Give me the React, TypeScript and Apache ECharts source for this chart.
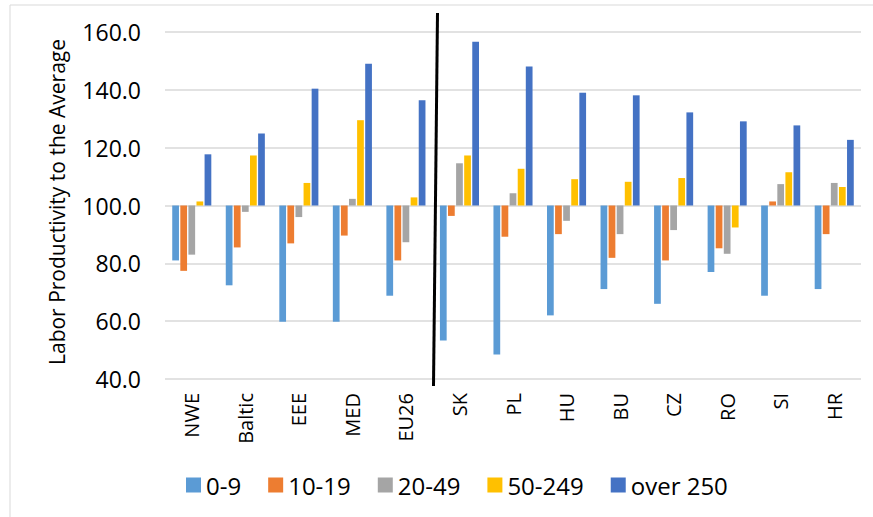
import React, { useEffect, useRef } from "react";
import * as echarts from "echarts";

const categories = ["NWE", "Baltic", "EEE", "MED", "EU26", "SK", "PL", "HU", "BU", "CZ", "RO", "SI", "HR"];
const seriesNames = ["0-9", "10-19", "20-49", "50-249", "over 250"];
const s0_9 = [81, 72.4, 59.8, 59.8, 68.8, 53.3, 48.5, 62, 71.1, 66, 77, 68.8, 71.1];
const s10_19 = [77.4, 85.5, 86.9, 89.6, 81, 96.4, 89.2, 90.1, 81.9, 81, 85.2, 101.4, 90.1];
const s20_49 = [83, 97.8, 96, 102.3, 87.3, 114.6, 104.2, 94.7, 90.1, 91.5, 83.3, 107.4, 107.8];
const s50_249 = [101.4, 117.3, 107.8, 129.5, 102.8, 117.3, 112.7, 109.1, 108.2, 109.5, 92.4, 111.5, 106.4];
const sOver250 = [117.7, 124.9, 140.4, 149, 136.4, 156.6, 148.1, 139, 138.1, 132.2, 129.1, 127.7, 122.7];
const yTicks = { min: 40, max: 160, step: 20 };
const baseline = 100;
const colors = ["#5B9BD5", "#ED7D31", "#A5A5A5", "#FFC000", "#4472C4"];
const FONT = "'Open Sans', 'Liberation Sans', sans-serif";

export default function App() {
  const ref = useRef<HTMLDivElement>(null);
  useEffect(() => {
    if (!ref.current) return;
    const chart = echarts.init(ref.current, null, { renderer: "svg" });
    const all = [s0_9, s10_19, s20_49, s50_249, sOver250];
    chart.setOption({
      animation: false,
      backgroundColor: "#ffffff",
      color: colors,
      grid: { left: 165, right: 12, top: 32, bottom: 138, containLabel: false },
      legend: {
        left: 181,
        top: 468,
        itemWidth: 15,
        itemHeight: 15,
        itemGap: 27,
        symbolKeepAspect: false,
        itemStyle: { borderWidth: 0 },
        textStyle: { fontFamily: FONT, fontSize: 24, color: "#000" },
        data: seriesNames.map((n) => ({ name: n, icon: "rect" })),
      },
      xAxis: {
        type: "category",
        data: categories,
        axisLine: { show: false, onZero: false },
        axisTick: { show: false },
        axisLabel: { rotate: 90, margin: 14, fontFamily: FONT, fontSize: 20, color: "#000" },
      },
      yAxis: {
        type: "value",
        min: yTicks.min - baseline,
        max: yTicks.max - baseline,
        interval: yTicks.step,
        axisLine: { show: false },
        axisTick: { show: false },
        splitLine: { lineStyle: { color: "#D9D9D9", width: 1.5 } },
        axisLabel: {
          margin: 24,
          fontFamily: FONT,
          fontSize: 23,
          color: "#000",
          formatter: (v: number) => (v + baseline).toFixed(1),
        },
      },
      series: all.map((arr, i) => ({
        name: seriesNames[i],
        type: "bar",
        barGap: "20%",
        barCategoryGap: "27%",
        data: arr.map((v) => +(v - baseline).toFixed(2)),
        itemStyle: { color: colors[i] },
      })),
      graphic: [
        {
          type: "rect",
          shape: { x: 10, y: 5, width: 900, height: 600 },
          style: { fill: "none", stroke: "#D9D9D9", lineWidth: 1 },
          silent: true,
        },
        {
          type: "text",
          x: 57,
          y: 202,
          rotation: Math.PI / 2,
          style: {
            text: "Labor Productivity to the Average",
            font: `21px ${FONT}`,
            fill: "#000",
            align: "center",
            verticalAlign: "middle",
          },
        },
        {
          type: "line",
          shape: { x1: 437.5, y1: 13, x2: 433.5, y2: 386 },
          style: { stroke: "#000", lineWidth: 3 },
          z: 100,
        },
      ],
    });
    return () => chart.dispose();
  }, []);
  return (
    <div
      ref={ref}
      style={{ position: "fixed", left: 0, top: 0, width: 873, height: 517 }}
    />
  );
}
